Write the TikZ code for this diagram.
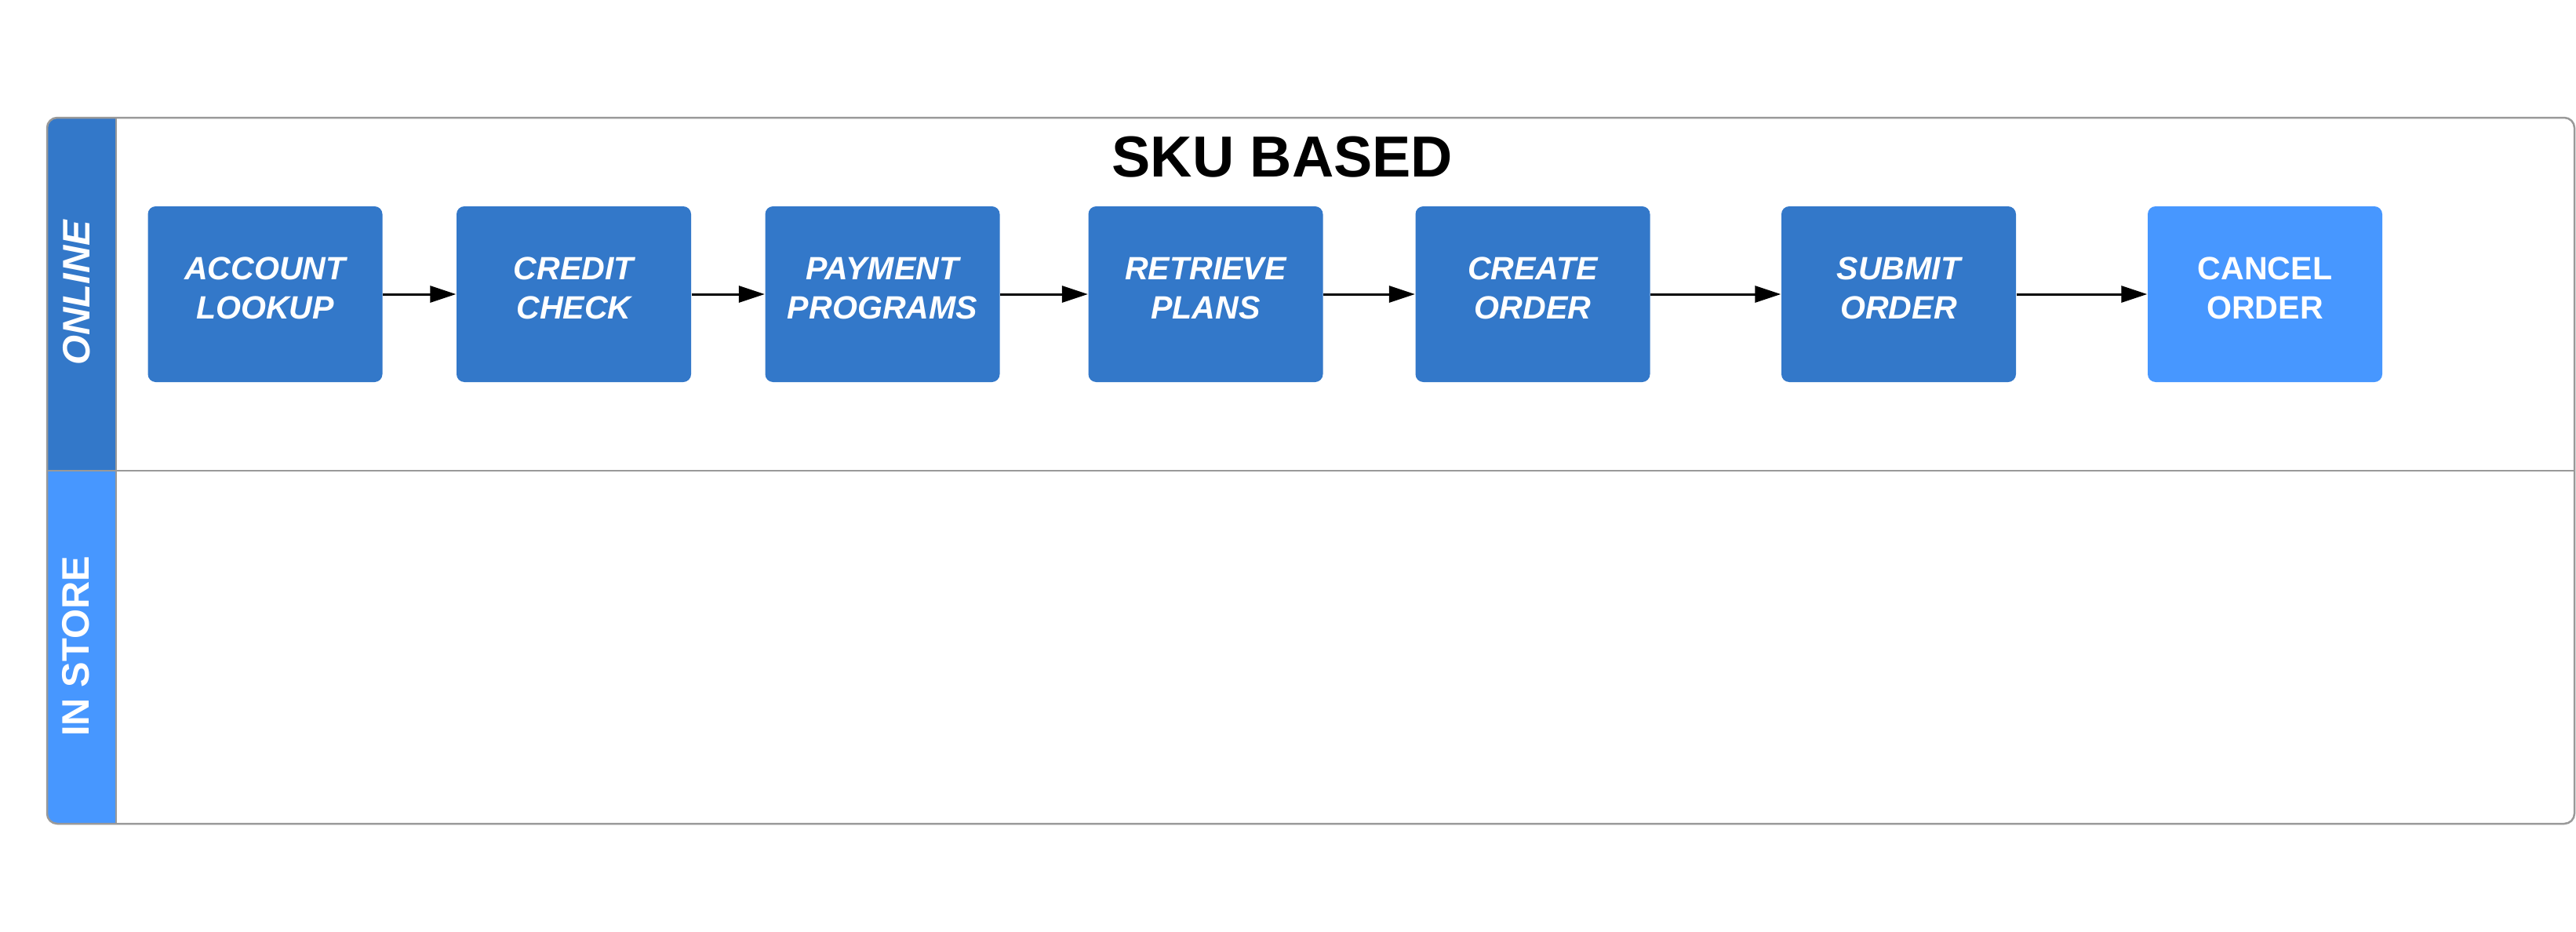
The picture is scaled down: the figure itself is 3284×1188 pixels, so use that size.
\documentclass[tikz,border=0pt]{standalone}
\usepackage{fontspec}
\setmainfont{Liberation Sans}
\usetikzlibrary{arrows.meta}

\definecolor{laneblue}{HTML}{3378C9}
\definecolor{lightblue}{HTML}{4797FF}
\definecolor{framegray}{HTML}{999999}

\tikzset{
    stepbox/.style={rectangle, rounded corners=1mm, fill=laneblue, text=white,
        minimum width=29.9mm, minimum height=22.4mm, align=center, text depth=1.6mm,
        font=\fontsize{11.7}{14.2}\selectfont\bfseries\itshape},
    flow/.style={-{Triangle[length=3.3mm,width=2.1mm]}, line width=0.3mm},
    lanelabel/.style={rotate=90, text=white, font=\fontsize{13.9}{16}\selectfont\bfseries}
}

\begin{document}
\begin{tikzpicture}[x=0.1mm, y=-0.1mm]
            \useasboundingbox (0,0) rectangle (3284,1188);

            % lanes
            \coordinate (tl) at (60,150);
            \coordinate (br) at (3282,1050);
            \begin{scope}
                \clip[rounded corners=1.3mm] (tl) rectangle (br);
                \fill[laneblue] (60,150) rectangle (148,600);
                \fill[lightblue] (60,600) rectangle (148,1050);
            \end{scope}
            \draw[framegray, line width=0.25mm, rounded corners=1.3mm] (tl) rectangle (br);
            \draw[framegray, line width=0.25mm] (148,150) -- (148,1050);
            \draw[framegray, line width=0.25mm] (60,600) -- (3282,600);

            \node[lanelabel, font=\fontsize{13.9}{16}\selectfont\bfseries\itshape] (online) at (97.5,373) {ONLINE};
            \node[lanelabel] (instore) at (97,824) {IN STORE};

            \node[font=\fontsize{21}{25}\selectfont\bfseries] (title) at (1635,200) {SKU BASED};

            % steps
            \node[stepbox] (acct) at (338,375) {ACCOUNT\\LOOKUP};
            \node[stepbox] (credit) at (731.5,375) {CREDIT\\CHECK};
            \node[stepbox] (pay) at (1125,375) {PAYMENT\\PROGRAMS};
            \node[stepbox] (plans) at (1537,375) {RETRIEVE\\PLANS};
            \node[stepbox] (create) at (1954,375) {CREATE\\ORDER};
            \node[stepbox] (submit) at (2420.5,375) {SUBMIT\\ORDER};
            \node[stepbox, fill=lightblue, font=\fontsize{11.7}{14.2}\selectfont\bfseries] (cancel) at (2887.5,375) {CANCEL\\ORDER};

            \draw[flow] (acct) -- (credit);
            \draw[flow] (credit) -- (pay);
            \draw[flow] (pay) -- (plans);
            \draw[flow] (plans) -- (create);
            \draw[flow] (create) -- (submit);
            \draw[flow] (submit) -- (cancel);
        \end{tikzpicture}
\end{document}
